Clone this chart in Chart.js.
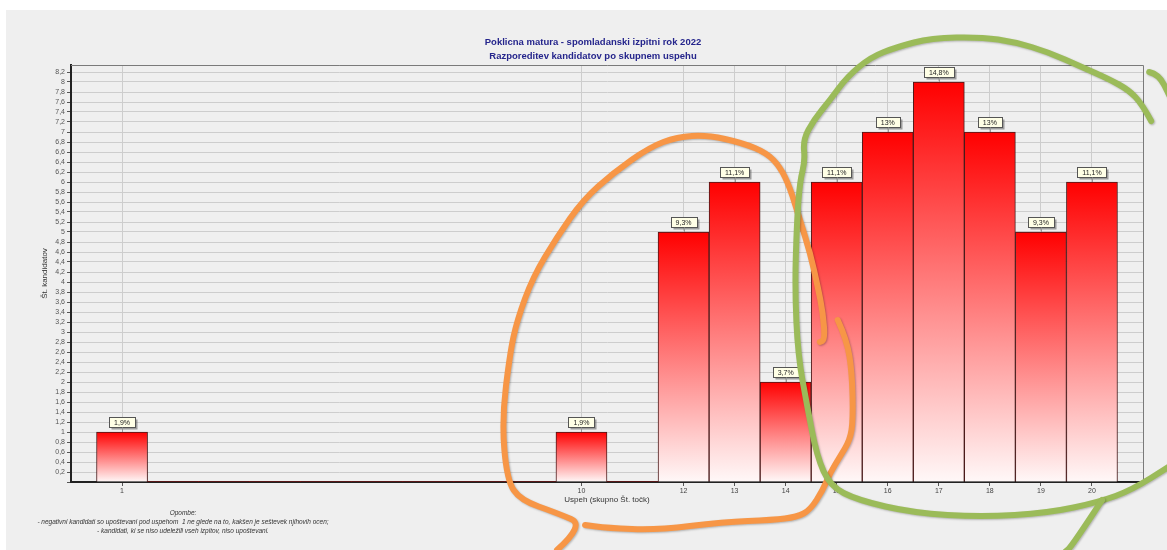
<!DOCTYPE html>
<html>
<head>
<meta charset="utf-8">
<script src="https://cdn.jsdelivr.net/npm/chart.js@4/dist/chart.umd.min.js"></script>
<style>
  html, body { margin: 0; background: #fff; }
  #okvir { position: absolute; left: 6px; top: 10px; width: 1161px; height: 540px; background: #efefef; }
</style>
</head>
<body>
<div id="okvir"><canvas id="myChart"></canvas></div>
<script>
// PODATKI
const kategorije = [1, 2, 3, 4, 5, 6, 7, 8, 9, 10, 11, 12, 13, 14, 15, 16, 17, 18, 19, 20]
const kandidati  = [1, 0, 0, 0, 0, 0, 0, 0, 0, 1, 0, 5, 6, 2, 6, 7, 8, 7, 5, 6]
const odstotki   = ['1,9%', '', '', '', '', '', '', '', '', '1,9%', '', '9,3%', '11,1%', '3,7%', '11,1%', '13%', '14,8%', '13%', '9,3%', '11,1%']
const yOznake    = [0, 0.2, 0.4, 0.6, 0.8, 1, 1.2, 1.4, 1.6, 1.8, 2, 2.2, 2.4, 2.6, 2.8, 3, 3.2, 3.4, 3.6, 3.8, 4, 4.2, 4.4, 4.6, 4.8, 5, 5.2, 5.4, 5.6, 5.8, 6, 6.2, 6.4, 6.6, 6.8, 7, 7.2, 7.4, 7.6, 7.8, 8, 8.2]

const naslov = ['Poklicna matura - spomladanski izpitni rok 2022', 'Razporeditev kandidatov po skupnem uspehu']
const naslovX = 'Uspeh (skupno Št. točk)'
const naslovY = 'Št. kandidatov'
const opombe = [
  'Opombe:',
  '- negativni kandidati so upoštevani pod uspehom  1 ne glede na to, kakšen je seštevek njihovih ocen;',
  '- kandidati, ki se niso udeležili vseh izpitov, niso upoštevani.'
]

// rocno narisani krogi (v enotah osi: x = tocke, y = kandidati)
const oranzna1 = [[9.52,-1.36],[10.07,-0.86],[9.52,-0.62],[8.80,-0.36],[8.54,0.04],[8.44,1.24],[8.60,2.58],[8.74,3.24],[9.05,4.10],[9.52,4.90],[10.03,5.64],[10.62,6.18],[11.34,6.70],[11.87,6.90],[12.46,6.94],[13.16,6.78],[13.63,6.58],[13.89,6.30],[14.08,5.90],[14.28,5.24],[14.48,4.58],[14.63,3.90],[14.73,3.38],[14.77,2.84],[14.67,2.80]]
const oranzna2 = [[15.02,3.24],[15.20,2.84],[15.30,2.18],[15.32,1.24],[15.26,0.84],[15.06,0.50],[14.87,0.18],[14.73,-0.16],[14.48,-0.56],[14.22,-0.70],[13.75,-0.76],[12.77,-0.80],[11.48,-0.96],[10.50,-0.92],[10.07,-0.86]]
const zelena1 = [[21.16,7.22],[20.98,7.56],[20.72,7.84],[20.33,8.06],[19.80,8.30],[19.14,8.60],[18.49,8.80],[17.83,8.90],[16.85,8.88],[16.18,8.70],[15.67,8.50],[15.20,8.10],[14.87,7.64],[14.55,7.24],[14.34,6.84],[14.38,6.42],[14.28,6.02],[14.22,5.22],[14.18,3.88],[14.24,2.54],[14.42,1.52],[14.61,0.52],[14.87,-0.08],[15.40,-0.36],[16.51,-0.62],[17.83,-0.70],[19.14,-0.62],[20.14,-0.40],[20.78,-0.16],[21.53,0.32]]
const zelena2 = [[21.12,8.20],[21.31,8.16],[21.53,7.70]]
const zelena3 = [[20.20,-0.36],[19.61,-1.28],[19.47,-1.40]]

Chart.defaults.font.family = 'Arial, "Liberation Sans", sans-serif'

// gradient za vsak stolpec posebej (rdeca -> bela)
function gradient(ctx) {
  const chart = ctx.chart
  const y = chart.scales.y
  if (!y || ctx.type !== 'data' || !ctx.parsed) return '#ff0000'
  const vrh = y.getPixelForValue(ctx.parsed.y)
  const dno = y.getPixelForValue(0)
  if (!isFinite(vrh) || vrh === dno) return '#ff0000'
  const g = chart.ctx.createLinearGradient(0, vrh, 0, dno)
  g.addColorStop(0, '#ff0000')
  g.addColorStop(1, '#fff8f8')
  return g
}

// okvir zgoraj in desno
const okvirPlugin = {
  id: 'okvir',
  beforeDatasetsDraw(chart) {
    const { ctx, chartArea: a } = chart
    ctx.save()
    ctx.strokeStyle = '#7a7a7a'
    ctx.lineWidth = 1
    ctx.beginPath()
    ctx.moveTo(a.left, a.top + 0.5)
    ctx.lineTo(a.right + 0.5, a.top + 0.5)
    ctx.lineTo(a.right + 0.5, a.bottom)
    ctx.stroke()
    ctx.restore()
  }
}

// nalepke z odstotki nad stolpci
const nalepkePlugin = {
  id: 'nalepke',
  afterDatasetsDraw(chart) {
    const { ctx } = chart
    const meta = chart.getDatasetMeta(0)
    ctx.save()
    ctx.font = '7px Arial, "Liberation Sans", sans-serif'
    ctx.textAlign = 'center'
    ctx.textBaseline = 'middle'
    meta.data.forEach((bar, i) => {
      if (!kandidati[i]) return
      const t = odstotki[i]
      const w = Math.round(ctx.measureText(t).width) + 10
      const h = 10
      const x = Math.round(bar.x - w / 2) + 0.5
      const y = Math.round(bar.y) - 5 - h + 0.5
      ctx.fillStyle = 'rgba(90,90,90,0.55)'
      ctx.fillRect(x + 2, y + 2, w, h)
      ctx.fillStyle = '#ffffe6'
      ctx.fillRect(x, y, w, h)
      ctx.strokeStyle = '#555'
      ctx.lineWidth = 1
      ctx.strokeRect(x, y, w, h)
      ctx.beginPath()
      ctx.moveTo(Math.round(bar.x) + 0.5, y + h)
      ctx.lineTo(Math.round(bar.x) + 0.5, bar.y)
      ctx.strokeStyle = '#999'
      ctx.stroke()
      ctx.fillStyle = '#222'
      ctx.fillText(t, bar.x, y + h / 2 + 0.5)
    })
    ctx.restore()
  }
}

// naslov in opombe
const besedilaPlugin = {
  id: 'besedila',
  afterDraw(chart) {
    const { ctx, chartArea: a } = chart
    ctx.save()
    ctx.textAlign = 'center'
    ctx.textBaseline = 'middle'
    ctx.fillStyle = '#25258c'
    ctx.font = 'bold 9.5px Arial, "Liberation Sans", sans-serif'
    const cx = (a.left + a.right) / 2 - 14
    ctx.fillText(naslov[0], cx, a.top - 23)
    ctx.fillText(naslov[1], cx, a.top - 9)
    ctx.fillStyle = '#333'
    ctx.font = 'italic 6.5px Arial, "Liberation Sans", sans-serif'
    opombe.forEach((v, i) => ctx.fillText(v, a.left + 112, a.bottom + 31 + i * 9.3))
    ctx.restore()
  }
}

// oranzni in zeleni krog
function poteza(ctx, tocke, sx, sy) {
  const p = tocke.map(([x, y]) => [sx.getPixelForValue(x), sy.getPixelForValue(y)])
  ctx.beginPath()
  ctx.moveTo(p[0][0], p[0][1])
  for (let i = 1; i < p.length - 1; i++) {
    const mx = (p[i][0] + p[i + 1][0]) / 2
    const my = (p[i][1] + p[i + 1][1]) / 2
    ctx.quadraticCurveTo(p[i][0], p[i][1], mx, my)
  }
  ctx.lineTo(p[p.length - 1][0], p[p.length - 1][1])
  ctx.stroke()
}

const kroziPlugin = {
  id: 'krozi',
  afterDraw(chart) {
    const { ctx, scales } = chart
    ctx.save()
    ctx.lineWidth = 6
    ctx.lineCap = 'round'
    ctx.lineJoin = 'round'
    ctx.shadowColor = 'rgba(0,0,0,0.25)'
    ctx.shadowBlur = 2
    ctx.shadowOffsetX = 1
    ctx.shadowOffsetY = 1
    ctx.strokeStyle = '#f79646'
    poteza(ctx, oranzna1, scales.x, scales.y)
    poteza(ctx, oranzna2, scales.x, scales.y)
    ctx.strokeStyle = '#9bbb59'
    poteza(ctx, zelena1, scales.x, scales.y)
    poteza(ctx, zelena2, scales.x, scales.y)
    poteza(ctx, zelena3, scales.x, scales.y)
    ctx.restore()
  }
}

var ctx = document.getElementById('myChart').getContext('2d')

var chart = new Chart(ctx, {
  type: 'bar',
  data: {
    datasets: [{
      label: naslovY,
      data: kategorije.map((k, i) => ({ x: k, y: kandidati[i] })),
      backgroundColor: gradient,
      borderColor: '#4a1a1a',
      borderWidth: c => (c.raw && c.raw.y > 0 ? 1 : 0),
      barPercentage: 1,
      categoryPercentage: 1
    }]
  },
  options: {
    responsive: true,
    maintainAspectRatio: false,
    animation: false,
    layout: { padding: { top: 55, right: 24, bottom: 28, left: 0 } },
    plugins: {
      legend: { display: false },
      tooltip: { enabled: false },
      title: { display: false }
    },
    scales: {
      x: {
        type: 'linear',
        min: 0,
        max: 21,
        offset: false,
        afterBuildTicks: s => {
          s.ticks = kategorije.filter((k, i) => kandidati[i] > 0).map(k => ({ value: k }))
        },
        afterFit: s => { s.height = 40 },
        ticks: { font: { size: 7 }, color: '#444', padding: 1, autoSkip: false, maxRotation: 0 },
        grid: { offset: false, color: '#cdcdcd', tickColor: '#555', tickLength: 4 },
        border: { color: '#222', width: 2 },
        title: { display: true, text: naslovX, font: { size: 8 }, color: '#333', padding: { top: 0, bottom: 17.2 } }
      },
      y: {
        min: 0,
        max: 8.34,
        afterBuildTicks: s => {
          s.ticks = yOznake.map(v => ({ value: v }))
        },
        afterFit: s => { s.width = 65 },
        ticks: {
          font: { size: 7 },
          color: '#555',
          padding: 2,
          autoSkip: false,
          callback: v => (v === 0 ? '' : String(v).replace('.', ','))
        },
        grid: { color: '#cdcdcd', tickColor: '#555', tickLength: 4 },
        border: { color: '#222', width: 2 },
        title: { display: true, text: naslovY, font: { size: 8 }, color: '#333', padding: { top: 34.2, bottom: 0 } }
      }
    }
  },
  plugins: [okvirPlugin, nalepkePlugin, besedilaPlugin, kroziPlugin]
})
</script>
</body>
</html>
